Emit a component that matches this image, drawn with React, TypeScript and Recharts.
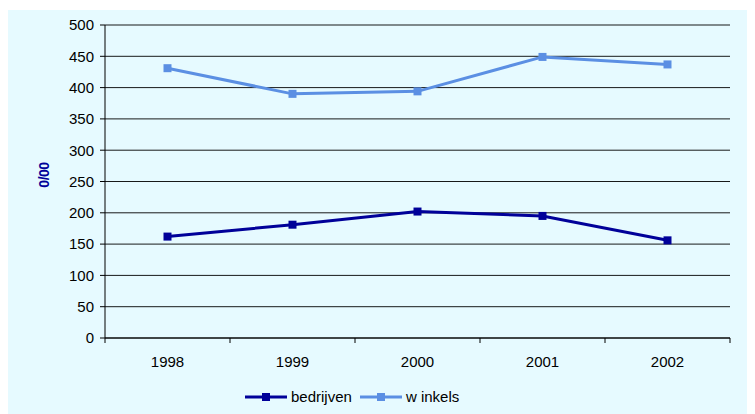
import React from "react";
import {
  LineChart,
  Line,
  XAxis,
  YAxis,
  CartesianGrid,
  Legend,
  Label,
} from "recharts";

const years = ["1998", "1999", "2000", "2001", "2002"];
const bedrijven = [162, 181, 202, 195, 156];
const winkels = [431, 390, 394, 449, 437];
const yTicks = [0, 50, 100, 150, 200, 250, 300, 350, 400, 450, 500];

const data = years.map((y, i) => ({ year: y, bedrijven: bedrijven[i], winkels: winkels[i] }));

const CHART_W = 748;
const CHART_H = 404;
const MARGIN = { top: 15, right: 25, bottom: 29, left: 38 };
const Y_AXIS_W = 60;
const PLOT_W = CHART_W - MARGIN.left - Y_AXIS_W - MARGIN.right;
const HALF_BAND = PLOT_W / years.length / 2;

const FONT = "Arial, 'Liberation Sans', sans-serif";
const BG = "#E6FAFF";
const DARK = "#000099";
const LIGHT = "#5B8FE3";

const SquareDot = (color: string) => (props: any) => {
  const { cx, cy } = props;
  if (cx == null || cy == null) return null;
  return <rect x={cx - 4} y={cy - 4} width={8} height={8} fill={color} />;
};

const XTick = (props: any) => {
  const { x, y, payload, index } = props;
  return (
    <g>
      <line x1={x - HALF_BAND} y1={y} x2={x - HALF_BAND} y2={y + 5} stroke="#000" />
      {index === years.length - 1 && (
        <line x1={x + HALF_BAND} y1={y} x2={x + HALF_BAND} y2={y + 5} stroke="#000" />
      )}
      <text x={x} y={y + 29} textAnchor="middle" fill="#000" fontSize={15} fontFamily={FONT}>
        {payload.value}
      </text>
    </g>
  );
};

const LegendContent = () => {
  const items = [
    { name: "bedrijven", color: DARK },
    { name: "w inkels", color: LIGHT },
  ];
  return (
    <div style={{ display: "flex", alignItems: "center", fontFamily: FONT, fontSize: 15, color: "#000" }}>
      {items.map((it) => (
        <div key={it.name} style={{ display: "flex", alignItems: "center", marginRight: 8 }}>
          <svg width={42} height={10} style={{ marginRight: 4 }}>
            <line x1={0} y1={5} x2={42} y2={5} stroke={it.color} strokeWidth={3} />
            <rect x={17} y={1} width={8} height={8} fill={it.color} />
          </svg>
          <span>{it.name}</span>
        </div>
      ))}
    </div>
  );
};

export default function App() {
  return (
    <div style={{ width: CHART_W, height: CHART_H, background: BG, margin: "2px 0 0 -1px" }}>
      <LineChart width={CHART_W} height={CHART_H} data={data} margin={MARGIN}>
        <CartesianGrid vertical={false} stroke="#000" strokeOpacity={0.9} />
        <XAxis
          dataKey="year"
          scale="band"
          tickSize={0}
          tickMargin={0}
          tick={<XTick />}
          tickLine={false}
          axisLine={{ stroke: "#000" }}
          height={30}
          interval={0}
        />
        <XAxis
          xAxisId="top"
          dataKey="year"
          orientation="top"
          scale="band"
          tick={false}
          tickLine={false}
          axisLine={{ stroke: "#808080", strokeWidth: 1.5 }}
          height={0}
        />
        <YAxis
          domain={[0, 500]}
          ticks={yTicks}
          tickSize={5}
          tickMargin={6}
          width={Y_AXIS_W}
          tick={{ fill: "#000", fontSize: 15, fontFamily: FONT }}
          tickLine={{ stroke: "#000" }}
          axisLine={{ stroke: "#000" }}
          interval={0}
        >
          <Label
            content={() => (
              <text
                x={0}
                y={0}
                transform="translate(42,165) rotate(-90)"
                textAnchor="middle"
                fill={DARK}
                fontWeight="bold"
                fontSize={14}
                letterSpacing={-0.5}
                fontFamily={FONT}
              >
                0/00
              </text>
            )}
          />
        </YAxis>
        <YAxis
          yAxisId="right"
          orientation="right"
          domain={[0, 500]}
          tick={false}
          tickLine={false}
          axisLine={{ stroke: "#808080", strokeWidth: 1.5 }}
          width={0}
        />
        <Line
          dataKey="bedrijven"
          name="bedrijven"
          stroke={DARK}
          strokeWidth={3}
          dot={SquareDot(DARK)}
          isAnimationActive={false}
        />
        <Line
          dataKey="winkels"
          name="w inkels"
          stroke={LIGHT}
          strokeWidth={3}
          dot={SquareDot(LIGHT)}
          isAnimationActive={false}
        />
        <Legend
          content={<LegendContent />}
          wrapperStyle={{ position: "absolute", left: 238, top: 378, width: "auto" }}
        />
      </LineChart>
    </div>
  );
}
